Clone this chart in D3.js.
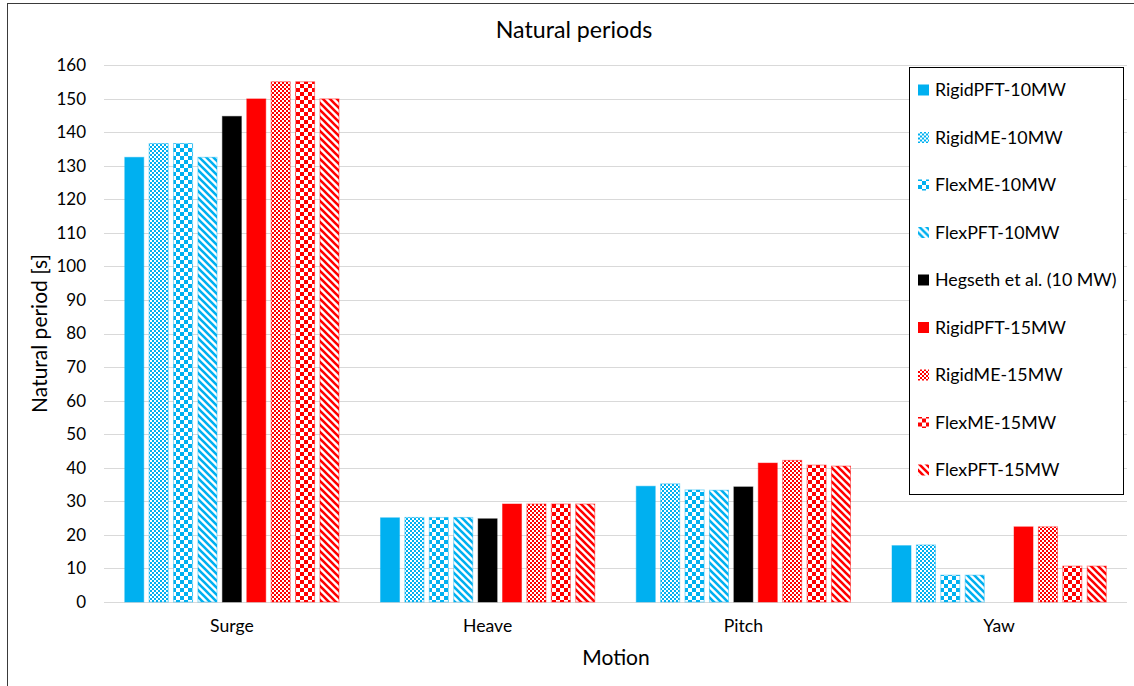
<!DOCTYPE html>
<html>
<head>
<meta charset="utf-8">
<script src="https://cdn.jsdelivr.net/npm/d3@7"></script>
<style>
  html, body { margin: 0; padding: 0; background: #fff; }
  svg { display: block; font-family: Lato, "Open Sans", sans-serif; }
</style>
</head>
<body>
<svg id="chart" width="1134" height="686"></svg>
<script>
// ---- Data ----
const categories = ["Surge", "Heave", "Pitch", "Yaw"];
const seriesNames = [
  "RigidPFT-10MW", "RigidME-10MW", "FlexME-10MW", "FlexPFT-10MW",
  "Hegseth et al. (10 MW)",
  "RigidPFT-15MW", "RigidME-15MW", "FlexME-15MW", "FlexPFT-15MW"
];
const rigidPFT10 = [132.5, 25.1, 34.5, 16.8];
const rigidME10  = [136.6, 25.2, 35.2, 17.0];
const flexME10   = [136.6, 25.2, 33.4, 8.0];
const flexPFT10  = [132.5, 25.2, 33.3, 8.0];
const hegseth10  = [144.7, 24.8, 34.3, null];
const rigidPFT15 = [149.9, 29.2, 41.4, 22.4];
const rigidME15  = [155.0, 29.2, 42.2, 22.4];
const flexME15   = [155.0, 29.2, 40.8, 10.7];
const flexPFT15  = [149.9, 29.2, 40.5, 10.7];
const seriesValues = [rigidPFT10, rigidME10, flexME10, flexPFT10, hegseth10,
                      rigidPFT15, rigidME15, flexME15, flexPFT15];
const yTicks = d3.range(0, 161, 10);

// ---- Styles ----
const BLUE = "#00B0F0", RED = "#FF0000", BLACK = "#000000";
const seriesStyle = [
  {color: BLUE, fill: "solid"}, {color: BLUE, fill: "smallcheck"},
  {color: BLUE, fill: "bigcheck"}, {color: BLUE, fill: "diag"},
  {color: BLACK, fill: "solid"},
  {color: RED, fill: "solid"}, {color: RED, fill: "smallcheck"},
  {color: RED, fill: "bigcheck"}, {color: RED, fill: "diag"}
];

const svg = d3.select("#chart");
const defs = svg.append("defs");

function makePattern(id, color, kind) {
  if (kind === "smallcheck") {
    const p = defs.append("pattern").attr("id", id).attr("patternUnits", "userSpaceOnUse")
      .attr("width", 4).attr("height", 4);
    p.append("rect").attr("width", 4).attr("height", 4).attr("fill", "#fff");
    p.append("rect").attr("width", 2).attr("height", 2).attr("fill", color);
    p.append("rect").attr("x", 2).attr("y", 2).attr("width", 2).attr("height", 2).attr("fill", color);
  } else if (kind === "bigcheck") {
    const p = defs.append("pattern").attr("id", id).attr("patternUnits", "userSpaceOnUse")
      .attr("width", 8).attr("height", 8);
    p.append("rect").attr("width", 8).attr("height", 8).attr("fill", "#fff");
    p.append("rect").attr("width", 4).attr("height", 4).attr("fill", color);
    p.append("rect").attr("x", 4).attr("y", 4).attr("width", 4).attr("height", 4).attr("fill", color);
  } else if (kind === "diag") {
    const p = defs.append("pattern").attr("id", id).attr("patternUnits", "userSpaceOnUse")
      .attr("width", 7).attr("height", 7);
    p.append("rect").attr("width", 7).attr("height", 7).attr("fill", "#fff");
    p.append("path").attr("d", "M-2,-2 L9,9 M-2,5 L2,9 M5,-2 L9,2")
      .attr("stroke", color).attr("stroke-width", 2.6);
  }
}
seriesStyle.forEach((s, i) => {
  if (s.fill !== "solid") makePattern("pat" + i, s.color, s.fill);
});
const fillOf = i => seriesStyle[i].fill === "solid" ? seriesStyle[i].color : `url(#pat${i})`;

// ---- Outer border ----
svg.append("rect").attr("x", 7.5).attr("y", 3.5).attr("width", 1140).attr("height", 700)
  .attr("fill", "none").attr("stroke", "#3a3a3a").attr("stroke-width", 1);

// ---- Scales ----
const plot = {left: 104, right: 1127, top: 65, bottom: 602};
const x0 = d3.scaleBand().domain(categories).range([plot.left, plot.right]).padding(0);
const x1 = d3.scaleBand().domain(d3.range(seriesNames.length)).range([0, x0.bandwidth()])
  .paddingInner(0.22).paddingOuter(0.85);
const y = d3.scaleLinear().domain([0, 160]).range([plot.bottom, plot.top]);

// gridlines
svg.append("g").selectAll("line").data(yTicks).join("line")
  .attr("x1", plot.left).attr("x2", plot.right)
  .attr("y1", d => Math.round(y(d)) + 0.5).attr("y2", d => Math.round(y(d)) + 0.5)
  .attr("stroke", "#d9d9d9").attr("stroke-width", 1);

// y axis labels
const yAxis = d3.axisLeft(y).tickValues(yTicks).tickSize(0).tickPadding(0);
const yg = svg.append("g").attr("transform", `translate(${plot.left - 18},0)`).call(yAxis);
yg.select(".domain").remove();
yg.selectAll("text").attr("font-size", 17).attr("fill", "#000")
  .attr("font-family", "Lato, sans-serif");

// x axis labels
const xAxis = d3.axisBottom(x0).tickSize(0).tickPadding(0);
const xg = svg.append("g").attr("transform", `translate(0,${plot.bottom + 17})`).call(xAxis);
xg.select(".domain").remove();
xg.selectAll("text").attr("font-size", 17.6).attr("fill", "#000")
  .attr("font-family", "Lato, sans-serif");

// bars
const barData = [];
categories.forEach((c, ci) => {
  seriesValues.forEach((vals, si) => {
    if (vals[ci] != null) barData.push({c, si, v: vals[ci]});
  });
});
svg.append("g").selectAll("rect").data(barData).join("rect")
  .attr("x", d => x0(d.c) + x1(d.si))
  .attr("y", d => y(d.v))
  .attr("width", x1.bandwidth())
  .attr("height", d => y(0) - y(d.v))
  .attr("fill", d => fillOf(d.si))
  .attr("stroke", d => seriesStyle[d.si].color)
  .attr("stroke-opacity", 0.45)
  .attr("stroke-width", 1);

// ---- Titles ----
svg.append("text").attr("x", 574).attr("y", 38).attr("text-anchor", "middle")
  .attr("font-size", 23.2).attr("fill", "#000").text("Natural periods");
svg.append("text").attr("x", 616).attr("y", 665).attr("text-anchor", "middle")
  .attr("font-size", 21).attr("fill", "#000").text("Motion");
svg.append("text").attr("transform", `translate(47,${(plot.top + plot.bottom) / 2}) rotate(-90)`)
  .attr("text-anchor", "middle").attr("font-size", 21).attr("fill", "#000")
  .text("Natural period [s]");

// ---- Legend ----
const lg = svg.append("g");
lg.append("rect").attr("x", 909.5).attr("y", 67.5).attr("width", 214).attr("height", 427)
  .attr("fill", "#fff").attr("stroke", "#000").attr("stroke-width", 1);
const legendY = d3.scalePoint().domain(d3.range(seriesNames.length)).range([90, 470]);
const items = lg.selectAll("g.item").data(seriesNames).join("g").attr("class", "item")
  .attr("transform", (d, i) => `translate(918,${legendY(i)})`);
items.append("rect").attr("x", 0).attr("y", -5.5).attr("width", 11).attr("height", 11)
  .attr("fill", (d, i) => fillOf(i));
items.append("text").attr("x", 17).attr("y", 0).attr("dy", "0.35em")
  .attr("font-size", 17.8).attr("fill", "#000").text(d => d);
</script>
</body>
</html>
